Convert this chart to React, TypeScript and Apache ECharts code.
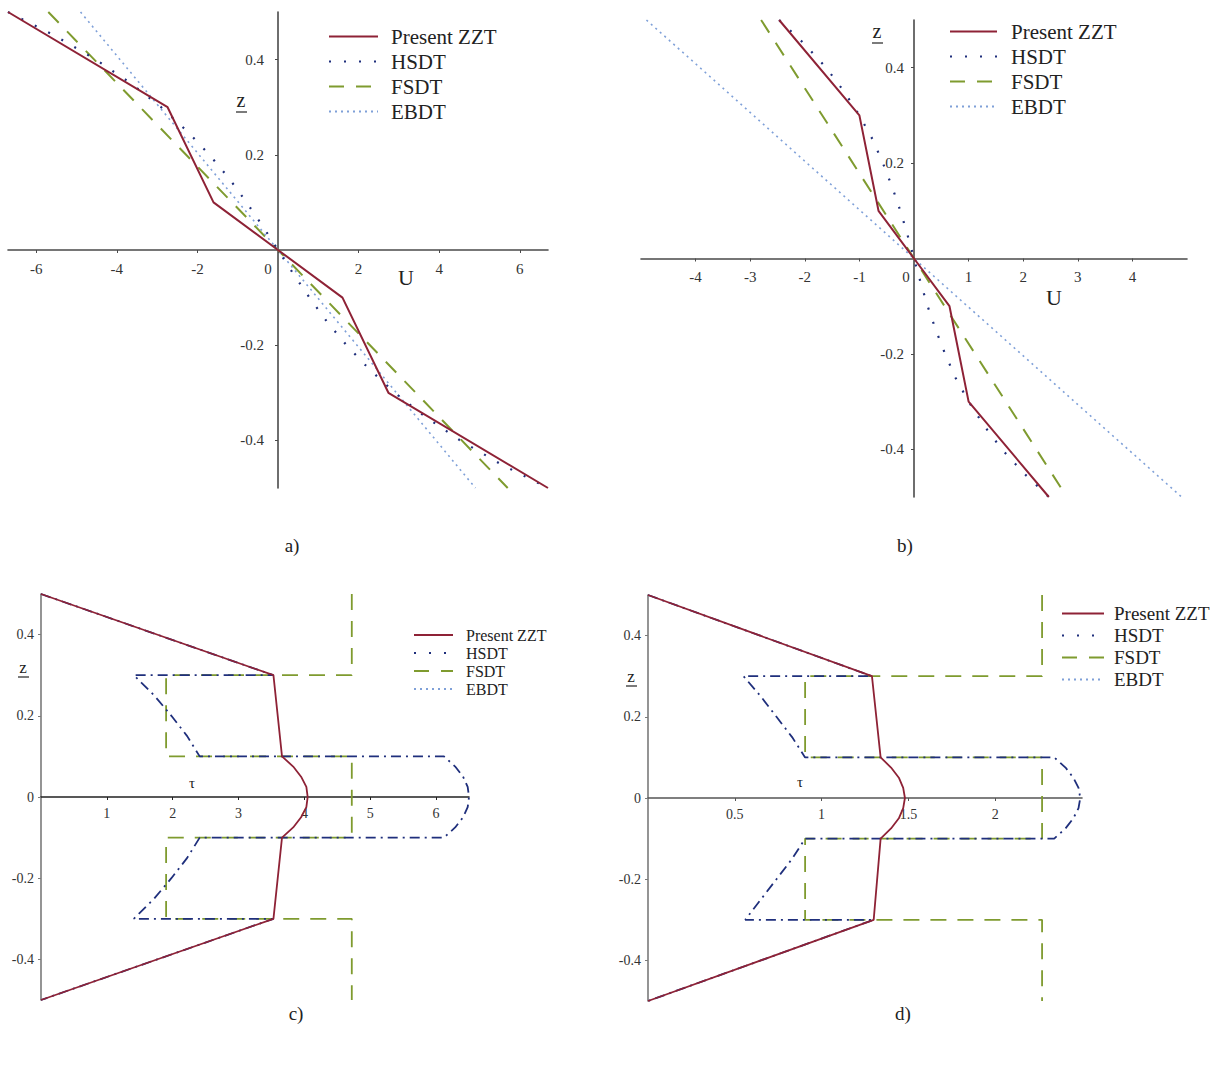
import React, { useEffect, useRef } from 'react';
import * as echarts from 'echarts';

// ---------- shared ----------
const NAMES = ['Present ZZT', 'HSDT', 'FSDT', 'EBDT'];
const Z_STEPS = [0.5, 0.45, 0.4, 0.35, 0.3, 0.25, 0.2, 0.15, 0.1, 0.05, 0, -0.05, -0.1, -0.15, -0.2, -0.25, -0.3, -0.35, -0.4, -0.45, -0.5];

// ---------- a) displacement U ----------
const A_ZZT_Z = [0.5, 0.3, 0.1, 0, -0.1, -0.3, -0.5];
const A_ZZT_U = [-6.7, -2.74, -1.6, 0, 1.6, 2.74, 6.7];
const A_HSDT_U = [-6.7, -5.53, -4.52, -3.65, -2.9, -2.26, -1.7, -1.21, -0.78, -0.38, 0, 0.38, 0.78, 1.21, 1.7, 2.26, 2.9, 3.65, 4.52, 5.53, 6.7];
const A_FSDT_Z = [0.5, -0.5];
const A_FSDT_U = [-5.7, 5.7];
const A_EBDT_Z = [0.5, -0.5];
const A_EBDT_U = [-4.9, 4.9];
const A_X_TICKS = [-6, -4, -2, 0, 2, 4, 6];
const A_Y_TICKS = [-0.4, -0.2, 0.2, 0.4];

// ---------- b) displacement U ----------
const B_ZZT_Z = [0.5, 0.3, 0.1, 0, -0.1, -0.3, -0.5];
const B_ZZT_U = [-2.47, -1.0, -0.65, 0, 0.65, 1.0, 2.47];
const B_HSDT_U = [-2.47, -2.01, -1.61, -1.28, -1.0, -0.76, -0.57, -0.4, -0.25, -0.12, 0, 0.12, 0.25, 0.4, 0.57, 0.76, 1.0, 1.28, 1.61, 2.01, 2.47];
const B_FSDT_Z = [0.5, -0.5];
const B_FSDT_U = [-2.8, 2.8];
const B_EBDT_Z = [0.5, -0.5];
const B_EBDT_U = [-4.9, 4.9];
const B_X_TICKS = [-4, -3, -2, -1, 0, 1, 2, 3, 4];
const B_Y_TICKS = [-0.4, -0.2, 0.2, 0.4];

// ---------- c) shear stress tau ----------
const C_ZZT_Z = [0.5, 0.3, 0.1, 0.075, 0.05, 0.025, 0, -0.025, -0.05, -0.075, -0.1, -0.3, -0.5];
const C_ZZT_T = [0, 3.53, 3.66, 3.83, 3.95, 4.03, 4.05, 4.03, 3.95, 3.83, 3.66, 3.53, 0];
const C_HSDT_Z = [0.5, 0.3, 0.3, 0.25, 0.2, 0.15, 0.1, 0.1, 0.075, 0.05, 0.025, 0, -0.025, -0.05, -0.075, -0.1, -0.1, -0.15, -0.2, -0.25, -0.3, -0.3, -0.5];
const C_HSDT_T = [0, 3.53, 1.41, 1.72, 1.98, 2.22, 2.41, 6.12, 6.29, 6.41, 6.48, 6.5, 6.48, 6.41, 6.29, 6.12, 2.41, 2.22, 1.98, 1.72, 1.41, 3.53, 0];
const C_FSDT_Z = [0.5, 0.3, 0.3, 0.1, 0.1, -0.1, -0.1, -0.3, -0.3, -0.5];
const C_FSDT_T = [4.72, 4.72, 1.9, 1.9, 4.72, 4.72, 1.9, 1.9, 4.72, 4.72];
const C_X_TICKS = [1, 2, 3, 4, 5, 6];
const C_Y_TICKS = [-0.4, -0.2, 0, 0.2, 0.4];

// ---------- d) shear stress tau ----------
const D_ZZT_Z = [0.5, 0.3, 0.1, 0.075, 0.05, 0.025, 0, -0.025, -0.05, -0.075, -0.1, -0.3, -0.5];
const D_ZZT_T = [0, 1.29, 1.34, 1.4, 1.445, 1.47, 1.48, 1.47, 1.445, 1.4, 1.34, 1.3, 0];
const D_HSDT_Z = [0.5, 0.3, 0.3, 0.25, 0.2, 0.15, 0.1, 0.1, 0.075, 0.05, 0.025, 0, -0.025, -0.05, -0.075, -0.1, -0.1, -0.15, -0.2, -0.25, -0.3, -0.3, -0.5];
const D_HSDT_T = [0, 1.29, 0.55, 0.65, 0.74, 0.83, 0.905, 2.34, 2.405, 2.45, 2.48, 2.49, 2.48, 2.45, 2.405, 2.34, 0.905, 0.83, 0.74, 0.65, 0.56, 1.3, 0];
const D_FSDT_Z = [0.5, 0.3, 0.3, 0.1, 0.1, -0.1, -0.1, -0.3, -0.3, -0.5];
const D_FSDT_T = [2.27, 2.27, 0.905, 0.905, 2.27, 2.27, 0.905, 0.905, 2.27, 2.27];
const D_X_TICKS = [0.5, 1, 1.5, 2];
const D_Y_TICKS = [-0.4, -0.2, 0, 0.2, 0.4];

const CAPTIONS = ['a)', 'b)', 'c)', 'd)'];

// ---------- styling ----------
const SERIF = 'Liberation Serif, Times New Roman, serif';
const C_ZZT = '#8e2236';
const C_HSDT = '#1f2f7c';
const C_FSDT = '#7f9b2f';
const C_EBDT = '#7fa0d8';
const AXIS = '#4a4a4a';

const GRIDS = [
  { left: 8, top: 12, width: 540, height: 476 },
  { left: 641, top: 20, width: 546, height: 477 },
  { left: 41, top: 594, width: 428, height: 406 },
  { left: 648, top: 595, width: 434, height: 406 },
];

const zip = (xs: number[], ys: number[]) => xs.map((x, i) => [x, ys[i]]);

const fmt = (v: number) => String(Math.round(v * 100) / 100);

function xAxisCfg(gi: number, min: number, max: number, ticks: number[], zeroPad: number | null, fs: number, margin: number, color: string) {
  // axis sits on z = 0 (middle of the symmetric z range)
  return {
    type: 'value', gridIndex: gi, min, max, position: 'bottom', offset: -GRIDS[gi].height / 2,
    axisLine: { show: true, onZero: false, lineStyle: { color, width: 1.6 } },
    axisTick: { show: true, length: 3, customValues: ticks, lineStyle: { color } },
    axisLabel: {
      customValues: ticks, margin, fontFamily: SERIF, fontSize: fs, color: '#333',
      formatter: (v: number) => (Math.abs(v) < 1e-9 ? (zeroPad === null ? '' : '{o|0}') : fmt(v)),
      rich: { o: { padding: [0, zeroPad || 0, 0, 0], fontFamily: SERIF, fontSize: fs, color: '#333' } },
    },
    splitLine: { show: false },
  };
}

function yAxisCfg(gi: number, ticks: number[], fs: number, margin: number, color: string, centred: boolean) {
  return {
    type: 'value', gridIndex: gi, min: -0.5, max: 0.5, position: 'left',
    offset: centred ? -GRIDS[gi].width / 2 : 0,
    axisLine: { show: true, onZero: false, lineStyle: { color, width: 1.6 } },
    axisTick: { show: true, length: 3, customValues: ticks, lineStyle: { color } },
    axisLabel: {
      customValues: ticks, margin, fontFamily: SERIF, fontSize: fs, color: '#333',
      formatter: (v: number) => fmt(v),
    },
    splitLine: { show: false },
  };
}

function line(name: string, idx: number, data: number[][], color: string, width: number, type: any, z: number) {
  return {
    name, type: 'line', xAxisIndex: idx, yAxisIndex: idx, data,
    symbol: 'none', showSymbol: false, smooth: false, clip: false, z,
    lineStyle: { color, width, type },
    itemStyle: { color },
    emphasis: { disabled: true },
  };
}

function text(t: string, x: number, y: number, size: number) {
  return {
    type: 'text', x, y, silent: true,
    style: {
      text: t, fill: '#222', fontFamily: SERIF, fontSize: size,
      align: 'center', verticalAlign: 'middle', textAlign: 'center', textVerticalAlign: 'middle',
    },
  };
}

function underline(x1: number, x2: number, y: number) {
  return { type: 'line', silent: true, shape: { x1, y1: y, x2, y2: y }, style: { stroke: '#333', lineWidth: 1.3 } };
}

function legendCfg(left: number, top: number, w: number, fs: number, gap: number, pad: number) {
  return {
    data: NAMES, orient: 'vertical', left, top, itemWidth: w, itemHeight: 12, itemGap: gap,
    selectedMode: false,
    itemStyle: { opacity: 0 },
    textStyle: { fontFamily: SERIF, fontSize: fs, color: '#222', padding: [0, 0, 0, pad] },
  };
}

export default function App() {
  const ref = useRef<HTMLDivElement>(null);
  useEffect(() => {
    if (!ref.current) return;
    const chart = echarts.init(ref.current, undefined, { renderer: 'svg' });
    const dotsAB: any = [2, 13];
    const dotsE: any = [2, 4];
    const dashAB: any = [15, 12];
    const dashCD: any = [16, 11];
    const dashDot: any = [10, 5, 2, 5];

    const option: any = {
      animation: false,
      backgroundColor: '#ffffff',
      grid: GRIDS,
      xAxis: [
        xAxisCfg(0, -6.7, 6.7, A_X_TICKS, 20, 15, 11, AXIS),
        xAxisCfg(1, -5, 5, B_X_TICKS, 16, 15, 11, AXIS),
        xAxisCfg(2, 0, 6.5, C_X_TICKS, null, 14, 9, '#222'),
        xAxisCfg(3, 0, 2.5, D_X_TICKS, null, 14, 9, '#555'),
      ],
      yAxis: [
        yAxisCfg(0, A_Y_TICKS, 15, 14, AXIS, true),
        yAxisCfg(1, B_Y_TICKS, 15, 10, AXIS, true),
        yAxisCfg(2, C_Y_TICKS, 14, 7, '#7a7a7a', false),
        yAxisCfg(3, D_Y_TICKS, 14, 7, '#7a7a7a', false),
      ],
      legend: [
        legendCfg(323, 21, 49, 21, 4, 8),
        legendCfg(944, 16, 47, 21, 4, 9),
        legendCfg(408, 622, 39, 16, 2, 8),
        legendCfg(1056, 599, 42, 19, 3, 5),
      ],
      series: [
        // a)
        line('FSDT', 0, zip(A_FSDT_U, A_FSDT_Z), C_FSDT, 2, dashAB, 2),
        line('EBDT', 0, zip(A_EBDT_U, A_EBDT_Z), C_EBDT, 1.6, dotsE, 3),
        line('HSDT', 0, zip(A_HSDT_U, Z_STEPS), C_HSDT, 2.2, dotsAB, 4),
        line('Present ZZT', 0, zip(A_ZZT_U, A_ZZT_Z), C_ZZT, 2, 'solid', 5),
        // b)
        line('FSDT', 1, zip(B_FSDT_U, B_FSDT_Z), C_FSDT, 2, dashAB, 2),
        line('EBDT', 1, zip(B_EBDT_U, B_EBDT_Z), C_EBDT, 1.6, dotsE, 3),
        line('HSDT', 1, zip(B_HSDT_U, Z_STEPS), C_HSDT, 2.2, dotsAB, 4),
        line('Present ZZT', 1, zip(B_ZZT_U, B_ZZT_Z), C_ZZT, 2, 'solid', 5),
        // c)
        line('FSDT', 2, zip(C_FSDT_T, C_FSDT_Z), C_FSDT, 1.8, dashCD, 2),
        line('EBDT', 2, [], C_EBDT, 1.6, dotsE, 3),
        line('HSDT', 2, zip(C_HSDT_T, C_HSDT_Z), C_HSDT, 1.8, dashDot, 4),
        line('Present ZZT', 2, zip(C_ZZT_T, C_ZZT_Z), C_ZZT, 1.8, 'solid', 5),
        // d)
        line('FSDT', 3, zip(D_FSDT_T, D_FSDT_Z), C_FSDT, 1.8, dashCD, 2),
        line('EBDT', 3, [], C_EBDT, 1.6, dotsE, 3),
        line('HSDT', 3, zip(D_HSDT_T, D_HSDT_Z), C_HSDT, 1.8, dashDot, 4),
        line('Present ZZT', 3, zip(D_ZZT_T, D_ZZT_Z), C_ZZT, 1.8, 'solid', 5),
      ],
      graphic: [
        text('z', 241, 100, 20), underline(236, 247, 112),
        text('U', 406, 277, 22),
        text('z', 877, 31, 20), underline(872, 883, 43),
        text('U', 1054, 297, 22),
        text('z', 23, 667, 17), underline(18, 29, 677),
        text('\u03c4', 192, 783, 15),
        text('z', 631, 676, 17), underline(626, 637, 686),
        text('\u03c4', 800, 782, 15),
        text(CAPTIONS[0], 292, 545, 19),
        text(CAPTIONS[1], 905, 545, 19),
        text(CAPTIONS[2], 296, 1013, 19),
        text(CAPTIONS[3], 903, 1013, 19),
      ],
    };
    chart.setOption(option);
    return () => chart.dispose();
  }, []);
  return <div ref={ref} style={{ position: 'absolute', left: 0, top: 0, width: 1210, height: 1073, background: '#fff' }} />;
}
